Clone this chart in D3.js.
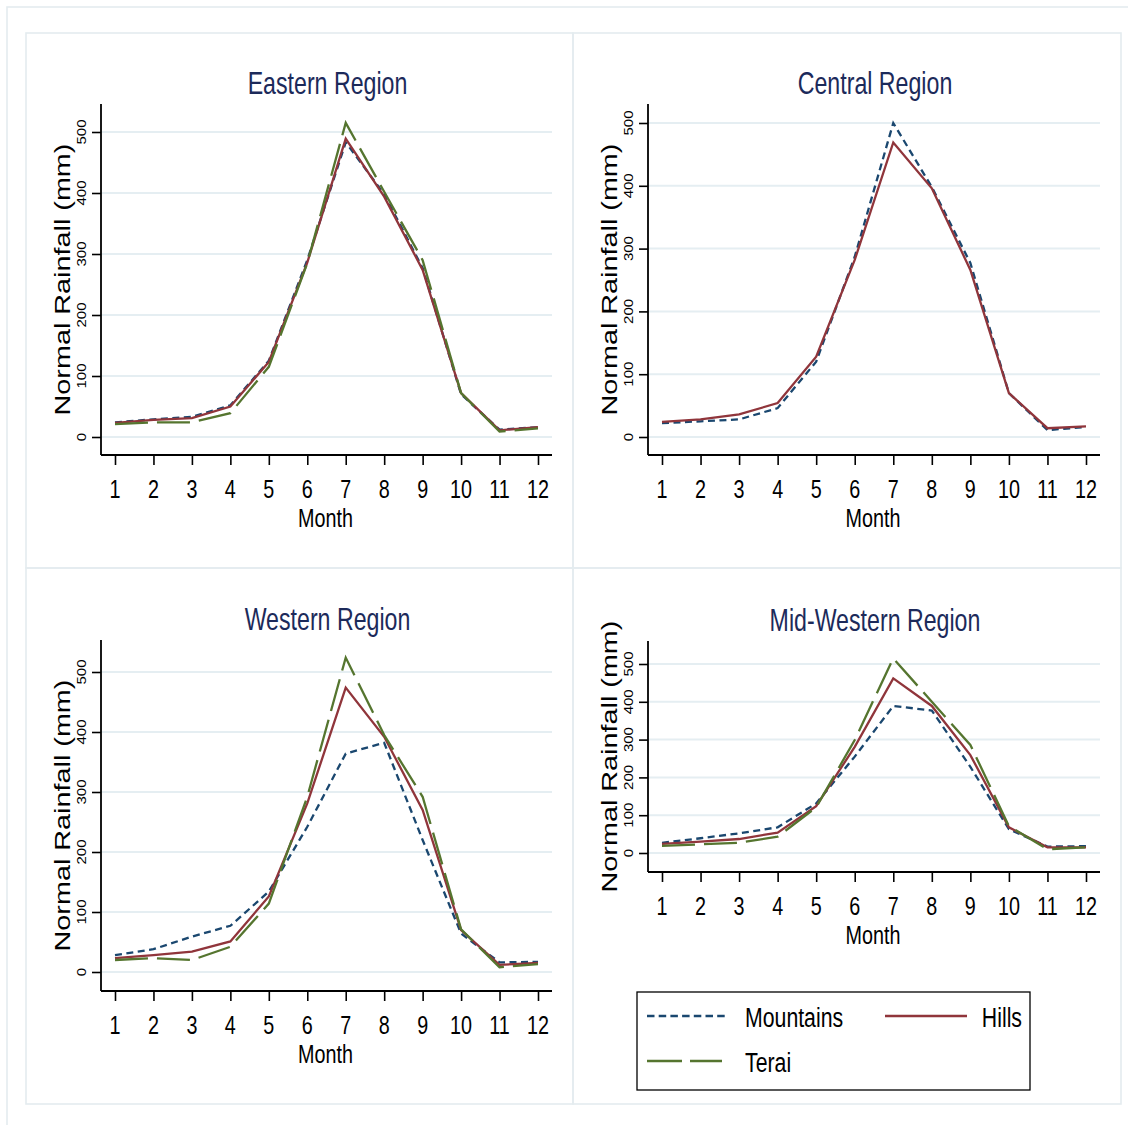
<!DOCTYPE html>
<html>
<head>
<meta charset="utf-8">
<script src="https://cdn.jsdelivr.net/npm/d3@7"></script>
<style>
  html, body { margin: 0; padding: 0; background: #ffffff; }
  svg { display: block; }
  text { font-family: "Liberation Sans", Arial, "DejaVu Sans", sans-serif; }
</style>
</head>
<body>
<svg id="chart" width="1128" height="1125"></svg>
<script>
// ---------------- DATA ----------------
const months = [1, 2, 3, 4, 5, 6, 7, 8, 9, 10, 11, 12];
const xTickLabels = ["1", "2", "3", "4", "5", "6", "7", "8", "9", "10", "11", "12"];
const yTicks = [0, 100, 200, 300, 400, 500];
const regionTitles = ["Eastern Region", "Central Region", "Western Region", "Mid-Western Region"];
const seriesNames = ["Mountains", "Hills", "Terai"];

const easternMountains = [24, 29, 33, 52, 125, 290, 483, 398, 277, 70, 12, 16];
const easternHills     = [23, 28, 31, 50, 123, 286, 489, 394, 274, 72, 11, 16];
const easternTerai     = [21, 24, 24, 39, 115, 285, 515, 402, 290, 72, 9, 14];

const centralMountains = [22, 25, 28, 46, 120, 287, 500, 398, 277, 70, 11, 16];
const centralHills     = [24, 28, 36, 54, 128, 282, 469, 396, 266, 70, 14, 17];

const westernMountains = [28, 38, 59, 77, 134, 242, 364, 382, 220, 64, 16, 17];
const westernHills     = [23, 28, 34, 51, 126, 281, 474, 392, 270, 70, 12, 15];
const westernTerai     = [20, 23, 20, 42, 114, 292, 524, 395, 292, 71, 8, 13];

const midwestMountains = [27, 39, 52, 68, 131, 255, 389, 377, 228, 63, 17, 18];
const midwestHills     = [24, 30, 37, 54, 124, 281, 462, 389, 259, 68, 15, 15];
const midwestTerai     = [19, 23, 27, 43, 121, 299, 515, 400, 286, 71, 10, 15];

const regionSeries = [
  [easternMountains, easternHills, easternTerai],
  [centralMountains, centralHills, null],
  [westernMountains, westernHills, westernTerai],
  [midwestMountains, midwestHills, midwestTerai]
];

// ---------------- STYLE / LAYOUT ----------------
const seriesColor = ["#1a476f", "#90353b", "#55752f"];
const seriesDash  = ["7,4.5", null, "33,9"];
const SX = 0.76;               // horizontal text compression
const gridColor = "#e5eef2";
const frameColor = "#e4ecef";
const titleColor = "#1c2a5a";

// plot areas: axis x, right end, top, bottom, pixel of 0 and of 500
const panels = [
  { axisX: 101, right: 552, top: 104, bottom: 455, y0: 437, y500: 132 },
  { axisX: 648, right: 1100, top: 104, bottom: 455, y0: 437, y500: 123 },
  { axisX: 101, right: 552, top: 640, bottom: 991, y0: 972, y500: 672 },
  { axisX: 648, right: 1100, top: 641, bottom: 872, y0: 853, y500: 664 }
];
const cells = [
  [26, 33, 573, 568], [573, 33, 1121, 568],
  [26, 568, 573, 1104], [573, 568, 1121, 1104]
];

const svg = d3.select("#chart");

// outer graph region frame
svg.append("rect").attr("x", 7).attr("y", 7).attr("width", 1140).attr("height", 1140)
  .attr("fill", "none").attr("stroke", frameColor).attr("stroke-width", 1.6);

// cell frames
cells.forEach(c => {
  svg.append("rect").attr("x", c[0]).attr("y", c[1])
    .attr("width", c[2] - c[0]).attr("height", c[3] - c[1])
    .attr("fill", "none").attr("stroke", frameColor).attr("stroke-width", 1.6);
});

function addText(g, x, y, str, size, opts = {}) {
  const rot = opts.rotate ? " rotate(-90)" : "";
  const sx = opts.sx || SX;
  return g.append("text")
    .attr("transform", `translate(${x},${y}) scale(${sx},1)${rot}`)
    .attr("text-anchor", opts.anchor || "middle")
    .attr("dominant-baseline", "central")
    .attr("font-size", size)
    .attr("fill", opts.fill || "#000")
    .text(str);
}

panels.forEach((p, i) => {
  const g = svg.append("g");
  const x = d3.scaleLinear().domain([1, 12]).range([p.axisX + 14, p.right - 14]);
  const y = d3.scaleLinear().domain([0, 500]).range([p.y0, p.y500]);

  // gridlines
  g.append("g").selectAll("line").data(yTicks).join("line")
    .attr("x1", p.axisX).attr("x2", p.right)
    .attr("y1", d => y(d)).attr("y2", d => y(d))
    .attr("stroke", gridColor).attr("stroke-width", 2);

  // y axis
  const yAxis = d3.axisLeft(y).tickValues(yTicks).tickSize(9).tickFormat("");
  const ya = g.append("g").attr("transform", `translate(${p.axisX},0)`).call(yAxis);
  ya.select(".domain").attr("d", `M0,${p.top}V${p.bottom}`).attr("stroke-width", 1.8);
  ya.selectAll(".tick line").attr("stroke-width", 1.6);
  yTicks.forEach(t => addText(g, p.axisX - 20, y(t), String(t), 15, { rotate: true, sx: 0.9 }));

  // x axis
  const xAxis = d3.axisBottom(x).tickValues(months).tickSize(10).tickFormat("");
  const xa = g.append("g").attr("transform", `translate(0,${p.bottom})`).call(xAxis);
  xa.select(".domain").attr("d", `M${p.axisX},0H${p.right}`).attr("stroke-width", 1.8);
  xa.selectAll(".tick line").attr("stroke-width", 1.6);
  months.forEach((m, k) => addText(g, x(m), p.bottom + 34, xTickLabels[k], 26));

  // axis titles
  const cx = (p.axisX + 14 + p.right - 14) / 2;
  addText(g, cx - 1, p.bottom + 63, "Month", 26);
  addText(g, p.axisX - 39, (p.top + p.bottom) / 2, "Normal Rainfall (mm)", 28.8, { rotate: true });

  // title
  addText(g, cx + 1, p.top - 21, regionTitles[i], 30.5, { fill: titleColor });

  // lines
  const line = d3.line().x((d, k) => x(months[k])).y(d => y(d));
  regionSeries[i].forEach((s, j) => {
    if (!s) return;
    g.append("path").datum(s).attr("d", line)
      .attr("fill", "none").attr("stroke", seriesColor[j]).attr("stroke-width", 2.3)
      .attr("stroke-dasharray", seriesDash[j]).attr("stroke-linejoin", "miter");
  });
});

// legend
const lg = svg.append("g");
lg.append("rect").attr("x", 637).attr("y", 992).attr("width", 393).attr("height", 98)
  .attr("fill", "#fff").attr("stroke", "#000").attr("stroke-width", 1.3);
const legendItems = [
  { x1: 647, x2: 728, y: 1016, tx: 745, anchor: "start" },
  { x1: 885, x2: 967, y: 1016, tx: 1022, anchor: "end" },
  { x1: 647, x2: 722, y: 1061, tx: 745, anchor: "start" }
];
legendItems.forEach((it, j) => {
  lg.append("line").attr("x1", it.x1).attr("x2", it.x2).attr("y1", it.y).attr("y2", it.y)
    .attr("stroke", seriesColor[j]).attr("stroke-width", 2.4)
    .attr("stroke-dasharray", j === 0 ? "7.5,4.2" : (j === 2 ? "35,8" : null));
  addText(lg, it.tx, it.y + 1, seriesNames[j], 28, { anchor: it.anchor });
});
</script>
</body>
</html>
